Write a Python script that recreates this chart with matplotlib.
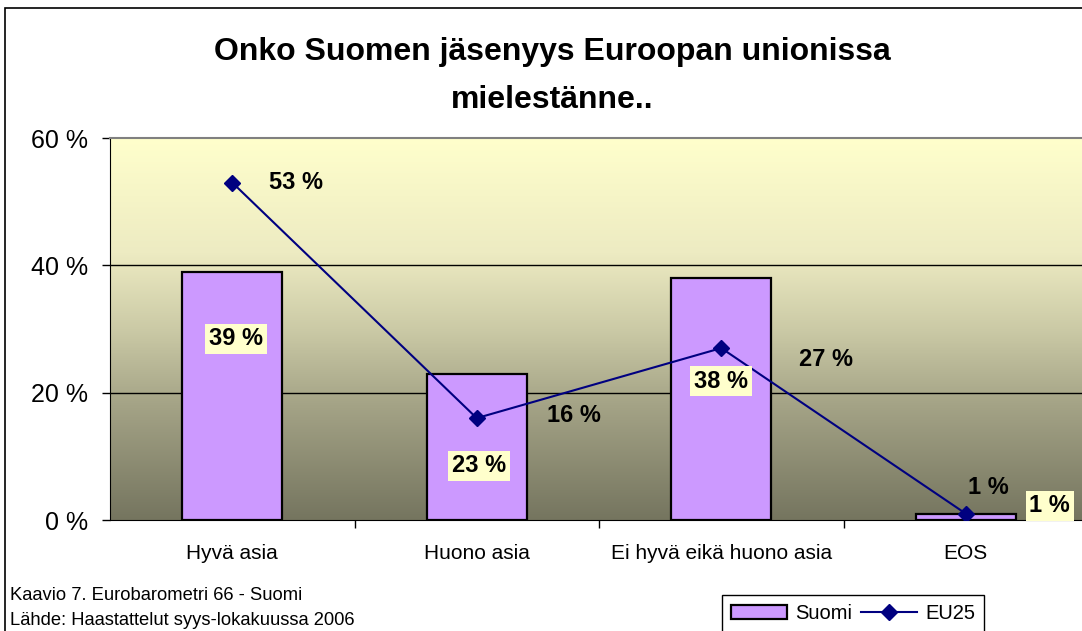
import numpy as np
import matplotlib
matplotlib.use("Agg")
import matplotlib.pyplot as plt
from matplotlib.colors import LinearSegmentedColormap
from matplotlib.patches import Rectangle

plt.rcParams['font.family'] = ['Liberation Sans', 'DejaVu Sans']

categories = ["Hyvä asia", "Huono asia", "Ei hyvä eikä huono asia", "EOS"]
suomi = [39, 23, 38, 1]
eu25 = [53, 16, 27, 1]
yticks = [0, 20, 40, 60]
title = "Onko Suomen jäsenyys Euroopan unionissa\nmielestänne.."
notes = "Kaavio 7. Eurobarometri 66 - Suomi\nLähde: Haastattelut syys-lokakuussa 2006"

# label offsets in pixels (hand placed like the original)
bar_offsets = [(4, 57), (2, -19), (0, 18), (84, 11)]
line_offsets = [(64, 0), (97, 3), (105, -11), (23, 26)]

fig = plt.figure(figsize=(10.82, 6.31), dpi=100)
fig.patch.set_facecolor("white")

# outer chart border
fig.patches.append(Rectangle((5 / 1082, -0.1), 1.2, 1 - 8 / 631 + 0.1,
                             transform=fig.transFigure, fill=False,
                             edgecolor="black", linewidth=1.2))

ax = fig.add_axes([110 / 1082, 1 - 520 / 631, 978 / 1082, 382 / 631])
x = np.arange(len(categories))

cmap = LinearSegmentedColormap.from_list(
    "bg", [(0, "#FFFFCC"), (0.3, "#EDEBC2"), (0.5, "#CBCAA6"),
           (0.7, "#A4A386"), (1.0, "#75755F")])
grad = np.linspace(0, 1, 256).reshape(-1, 1)
ax.imshow(grad, cmap=cmap, aspect="auto", extent=[-0.5, 3.5, 0, 60],
          origin="upper", zorder=0)

for y in [20, 40]:
    ax.axhline(y, color="black", linewidth=1.0, zorder=1)

bars = ax.bar(x, suomi, width=0.41, color="#CC99FF", edgecolor="black",
              linewidth=1.6, zorder=2, label="Suomi")
line, = ax.plot(x, eu25, color="#000080", linewidth=1.5, marker="D",
                markersize=8, zorder=3, label="EU25")

for i, v in enumerate(suomi):
    ax.annotate(f"{v} %", (x[i], v / 2), xytext=bar_offsets[i],
                textcoords="offset pixels", ha="center", va="center",
                fontsize=17, fontweight="bold", zorder=5,
                bbox=dict(boxstyle="square,pad=0.16", facecolor="#FFFFCC",
                          edgecolor="none"))
for i, v in enumerate(eu25):
    ax.annotate(f"{v} %", (x[i], v), xytext=line_offsets[i],
                textcoords="offset pixels", ha="center", va="center",
                fontsize=17, fontweight="bold", zorder=5)

ax.set_xlim(-0.5, 3.5)
ax.set_ylim(0, 60)
ax.set_yticks(yticks)
ax.set_yticklabels([f"{t} %" for t in yticks])
ax.tick_params(axis="y", direction="out", length=6, width=1, pad=10,
               labelsize=18)
ax.set_xticks(x)
ax.set_xticklabels(categories)
ax.tick_params(axis="x", which="major", length=0, pad=17, labelsize=15)
ax.set_xticks([0.5, 1.5, 2.5], minor=True)
ax.tick_params(axis="x", which="minor", direction="out", length=6, width=1)

ax.spines["left"].set_color("black")
ax.spines["bottom"].set_color("black")
ax.spines["top"].set_color("#808080")
ax.spines["top"].set_linewidth(1.5)
ax.spines["right"].set_visible(False)

fig.text(552 / 1082, 1 - 76 / 631, title, ha="center", va="center",
         fontsize=23, fontweight="bold", linespacing=1.75)
fig.text(10 / 1082, 1 - 608 / 631, notes, ha="left", va="center",
         fontsize=13.2, linespacing=1.55)

leg = fig.legend([bars, line], ["Suomi", "EU25"], loc="upper left",
                 bbox_to_anchor=(722 / 1082, 1 - 595 / 631),
                 ncol=2, fontsize=14.5, frameon=True, fancybox=False,
                 edgecolor="black", framealpha=1, handlelength=2.8,
                 columnspacing=0.4, handletextpad=0.4, borderpad=0.45,
                 borderaxespad=0)
leg.get_frame().set_linewidth(1.0)

fig.savefig("out.png", dpi=100)
